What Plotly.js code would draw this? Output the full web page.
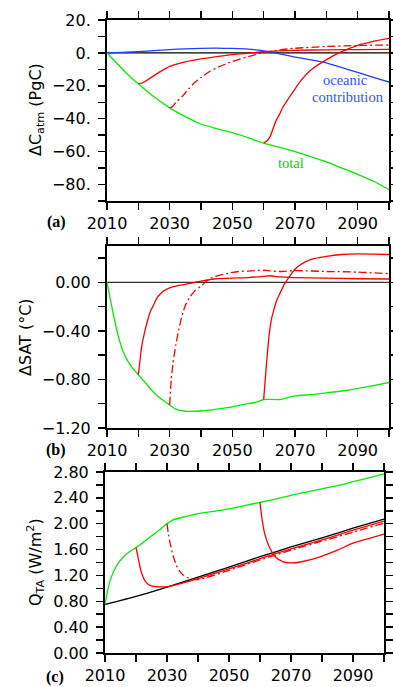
<!DOCTYPE html>
<html>
<head>
<meta charset="utf-8">
<script src="https://cdn.plot.ly/plotly-3.0.1.min.js"></script>
<style>html,body{margin:0;padding:0;background:#fff;}#chart{width:393px;height:687px;}</style>
</head>
<body>
<div id="chart"></div>
<script>
// ---------- Panel (a): change in atmospheric carbon (PgC) ----------
var aTotalYears = [2010,2012,2014,2016,2018,2020,2025,2030,2035,2040,2045,2050,2055,2060,2065,2070,2075,2080,2085,2090,2095,2100];
var aTotal      = [0,-4,-8,-12,-15.5,-18.7,-26.7,-33.4,-38.7,-43.2,-46,-48.5,-51.5,-54.8,-57.3,-60,-63,-66.2,-70,-73.8,-78,-83];
var aOceanYears = [2010,2015,2020,2025,2030,2035,2040,2045,2050,2055,2060,2065,2070,2075,2080,2085,2090,2095,2100];
var aOcean      = [0,0.3,0.8,1.4,2.0,2.5,2.8,2.9,2.7,2.3,1.2,-0.6,-2.5,-4.2,-6.1,-9.0,-11.9,-14.8,-17.7];
var a2020Years  = [2020,2021,2022,2023,2025,2027,2030,2035,2040,2045,2050,2055,2060,2070,2080,2090,2100];
var a2020       = [-18.7,-18.4,-17.5,-16.3,-13.8,-11.4,-8.2,-5.4,-3.6,-2.2,-1.1,-0.2,0.8,1.6,1.9,2.0,2.1];
var a2030Years  = [2030,2031,2032,2034,2036,2038,2040,2043,2046,2050,2055,2060,2065,2070,2080,2090,2100];
var a2030       = [-33.4,-32.5,-30,-26.5,-22,-18,-15,-11,-8.2,-5.2,-2.3,0.2,1.8,2.8,3.9,4.5,4.8];
var a2060Years  = [2060,2061,2062,2063,2064,2065,2066,2068,2070,2072,2075,2079,2084,2090,2095,2100];
var a2060       = [-54.8,-53.5,-51,-46,-41,-37.5,-33.5,-27.5,-22,-16.5,-10.5,-5.3,0,4.6,7,8.8];

// ---------- Panel (b): change in surface air temperature (°C) ----------
var bTotalYears = [2010,2011,2012,2013,2014,2015,2016,2018,2020,2022,2025,2027,2030,2032,2035,2040,2045,2050,2055,2058,2060,2065,2070,2075,2080,2085,2090,2095,2100];
var bTotal      = [0,-0.13,-0.26,-0.38,-0.48,-0.56,-0.62,-0.70,-0.76,-0.82,-0.91,-0.955,-1.01,-1.045,-1.062,-1.06,-1.045,-1.025,-1.0,-0.985,-0.965,-0.965,-0.935,-0.925,-0.91,-0.895,-0.875,-0.85,-0.825];
var b2020Years  = [2020,2020.5,2021,2022,2023,2024,2025,2026,2027,2028,2030,2033,2037,2040,2045,2050,2055,2060,2062,2065,2070,2080,2090,2100];
var b2020       = [-0.76,-0.65,-0.54,-0.41,-0.31,-0.23,-0.18,-0.125,-0.095,-0.072,-0.045,-0.025,-0.005,0.01,0.03,0.036,0.04,0.05,0.055,0.045,0.04,0.035,0.03,0.028];
var b2030Years  = [2030,2030.5,2031,2032,2033,2034,2035,2036.5,2038,2040,2043,2048,2052,2056,2060,2062,2065,2070,2080,2090,2100];
var b2030       = [-1.01,-0.8,-0.68,-0.51,-0.38,-0.27,-0.19,-0.12,-0.07,-0.03,0.035,0.072,0.09,0.095,0.1,0.095,0.09,0.097,0.09,0.085,0.072];
var b2060Years  = [2060,2060.5,2061,2061.8,2062.5,2063.2,2064,2065.2,2066.5,2068,2070.5,2073,2076,2080,2085,2090,2095,2100];
var b2060       = [-0.965,-0.8,-0.64,-0.42,-0.3,-0.23,-0.16,-0.09,-0.02,0.04,0.12,0.165,0.195,0.215,0.23,0.235,0.233,0.23];

// ---------- Panel (c): ocean heat uptake Q_TA (W/m^2) ----------
var cTotalYears = [2010,2011,2012,2014,2016,2018,2020,2022,2025,2028,2030,2032,2035,2040,2045,2050,2055,2060,2065,2070,2075,2080,2085,2090,2095,2100];
var cTotal      = [0.75,1.0,1.17,1.37,1.49,1.57,1.63,1.70,1.81,1.92,2.0,2.06,2.10,2.155,2.19,2.23,2.28,2.33,2.38,2.44,2.49,2.54,2.59,2.65,2.71,2.77];
var cRefYears   = [2010,2020,2030,2040,2050,2060,2070,2080,2090,2100];
var cRef        = [0.75,0.875,1.02,1.175,1.33,1.49,1.64,1.78,1.93,2.07];
var c2020Years  = [2020,2020.5,2021,2021.5,2022,2023,2024,2025,2027,2030,2035,2040,2050,2060,2070,2080,2090,2100];
var c2020       = [1.63,1.52,1.40,1.29,1.21,1.11,1.06,1.04,1.025,1.025,1.08,1.15,1.30,1.46,1.61,1.75,1.90,2.04];
var c2030Years  = [2030,2030.5,2031,2032,2033,2034,2035,2037,2040,2050,2060,2070,2080,2090,2100];
var c2030       = [2.0,1.83,1.70,1.50,1.36,1.27,1.215,1.16,1.135,1.28,1.44,1.59,1.73,1.87,2.01];
var c2060Years  = [2060,2060.7,2061.6,2062.9,2065,2067.5,2070,2072,2076,2080,2085,2090,2095,2100];
var c2060       = [2.33,2.06,1.83,1.65,1.485,1.41,1.395,1.40,1.44,1.50,1.59,1.70,1.77,1.84];

var zeroYears = [2010,2100];
var zeroVals  = [0,0];

// Tick labels (major) and minor tick positions
var xTickVals  = [2010,2030,2050,2070,2090];
var xTickText  = ['2010','2030','2050','2070','2090'];
var xMinorVals = [2020,2040,2060,2080,2100];
var aTickVals  = [-80,-60,-40,-20,0,20];
var aTickText  = ['\u221280.','\u221260.','\u221240.','\u221220.','0.','20.'];
var aMinorVals = [-90,-70,-50,-30,-10,10];
var bTickVals  = [-1.2,-0.8,-0.4,0];
var bTickText  = ['\u22121.20','\u22120.80','\u22120.40','0.00'];
var bMinorVals = [-1.0,-0.6,-0.2,0.2];
var cTickVals  = [0,0.4,0.8,1.2,1.6,2.0,2.4,2.8];
var cTickText  = ['0.00','0.40','0.80','1.20','1.60','2.00','2.40','2.80'];
var cMinorVals = [0.2,0.6,1.0,1.4,1.8,2.2,2.6];

var RED = '#ff0000', GREEN = '#00ee00', BLUE = '#1f3fff';
var DASH = '8px,3px,2px,3px';
var LW = 1.3;

function tr(x, y, color, ax, dash, w) {
  return {x: x, y: y, type: 'scatter', mode: 'lines', xaxis: 'x' + ax, yaxis: 'y' + ax,
          line: {color: color, width: w || LW, dash: dash || 'solid', shape: 'spline', smoothing: 0.6},
          hoverinfo: 'skip', showlegend: false};
}

var data = [
  tr(zeroYears, zeroVals, '#000', '', null, 1.3),
  tr(aOceanYears, aOcean, BLUE, ''),
  tr(aTotalYears, aTotal, GREEN, ''),
  tr(a2020Years, a2020, RED, ''),
  tr(a2030Years, a2030, RED, '', DASH),
  tr(a2060Years, a2060, RED, ''),

  tr(zeroYears, zeroVals, '#333', '2', null, 1.3),
  tr(bTotalYears, bTotal, GREEN, '2'),
  tr(b2020Years, b2020, RED, '2'),
  tr(b2030Years, b2030, RED, '2', DASH),
  tr(b2060Years, b2060, RED, '2'),

  tr(cRefYears, cRef, '#000', '3'),
  tr(cTotalYears, cTotal, GREEN, '3'),
  tr(c2020Years, c2020, RED, '3'),
  tr(c2030Years, c2030, RED, '3', DASH),
  tr(c2060Years, c2060, RED, '3')
];

var W = 393, H = 687;
function px(x) { return x / W; }
function py(y) { return 1 - y / H; }

var tickFont = {family: 'DejaVu Sans, sans-serif', size: 16, color: '#000'};
function axis(extra, minorVals) {
  var a = {showline: true, linewidth: 2, linecolor: '#000', mirror: 'ticks', ticks: 'outside',
           ticklen: 7, tickwidth: 1.5, tickcolor: '#000', showgrid: false, zeroline: false,
           tickfont: tickFont, tickmode: 'array', fixedrange: true,
           minor: {tickmode: 'array', tickvals: minorVals, ticks: 'outside', ticklen: 7, tickwidth: 1.5, tickcolor: '#000', showgrid: false}};
  for (var k in extra) a[k] = extra[k];
  return a;
}

var layout = {
  width: W, height: H, autosize: false,
  margin: {l: 0, r: 0, t: 0, b: 0, pad: 0},
  paper_bgcolor: '#fff', plot_bgcolor: '#fff',
  showlegend: false,
  xaxis:  axis({domain: [px(107), px(389)], range: [2010, 2100], anchor: 'y',  tickvals: xTickVals, ticktext: xTickText}, xMinorVals),
  yaxis:  axis({domain: [py(201), py(20)],  range: [-90, 20],    anchor: 'x',  tickvals: aTickVals, ticktext: aTickText, ticklabelstandoff: 4}, aMinorVals),
  xaxis2: axis({domain: [px(107), px(389)], range: [2010, 2100], anchor: 'y2', tickvals: xTickVals, ticktext: xTickText}, xMinorVals),
  yaxis2: axis({domain: [py(428), py(246)], range: [-1.2, 0.3],  anchor: 'x2', tickvals: bTickVals, ticktext: bTickText, ticklabelstandoff: 4}, bMinorVals),
  xaxis3: axis({domain: [px(105), px(384)], range: [2010, 2100], anchor: 'y3', tickvals: xTickVals, ticktext: xTickText}, xMinorVals),
  yaxis3: axis({domain: [py(653), py(472)], range: [0, 2.8],     anchor: 'x3', tickvals: cTickVals, ticktext: cTickText, ticklabelstandoff: 4}, cMinorVals),
  annotations: [
    {text: '\u0394C<sub>atm</sub> (PgC)', xref: 'paper', yref: 'paper', x: px(36), y: py(110), textangle: -90,
     showarrow: false, xanchor: 'center', yanchor: 'middle', font: {family: 'DejaVu Sans, sans-serif', size: 16, color: '#000'}},
    {text: '\u0394SAT (\u00B0C)', xref: 'paper', yref: 'paper', x: px(25), y: py(337), textangle: -90,
     showarrow: false, xanchor: 'center', yanchor: 'middle', font: {family: 'DejaVu Sans, sans-serif', size: 16, color: '#000'}},
    {text: 'Q<sub>TA</sub> (W/m<sup>2</sup>)', xref: 'paper', yref: 'paper', x: px(35), y: py(562), textangle: -90,
     showarrow: false, xanchor: 'center', yanchor: 'middle', font: {family: 'DejaVu Sans, sans-serif', size: 16, color: '#000'}},
    {text: 'oceanic', xref: 'paper', yref: 'paper', x: px(345), y: py(80), showarrow: false, xanchor: 'center', yanchor: 'middle',
     font: {family: 'Liberation Serif, serif', size: 14.5, color: '#3355ff'}},
    {text: 'contribution', xref: 'paper', yref: 'paper', x: px(347.5), y: py(97), showarrow: false, xanchor: 'center', yanchor: 'middle',
     font: {family: 'Liberation Serif, serif', size: 14.5, color: '#3355ff'}},
    {text: 'total', xref: 'paper', yref: 'paper', x: px(290.5), y: py(163), showarrow: false, xanchor: 'center', yanchor: 'middle',
     font: {family: 'Liberation Serif, serif', size: 14.5, color: '#11cc11'}},
    {text: '<b>(a)</b>', xref: 'paper', yref: 'paper', x: px(68), y: py(222), showarrow: false, xanchor: 'right', yanchor: 'middle',
     font: {family: 'Liberation Serif, serif', size: 16, color: '#000'}},
    {text: '<b>(b)</b>', xref: 'paper', yref: 'paper', x: px(68), y: py(450), showarrow: false, xanchor: 'right', yanchor: 'middle',
     font: {family: 'Liberation Serif, serif', size: 16, color: '#000'}},
    {text: '<b>(c)</b>', xref: 'paper', yref: 'paper', x: px(66), y: py(677), showarrow: false, xanchor: 'right', yanchor: 'middle',
     font: {family: 'Liberation Serif, serif', size: 16, color: '#000'}}
  ]
};

Plotly.newPlot('chart', data, layout, {displayModeBar: false, staticPlot: true});
</script>
</body>
</html>
